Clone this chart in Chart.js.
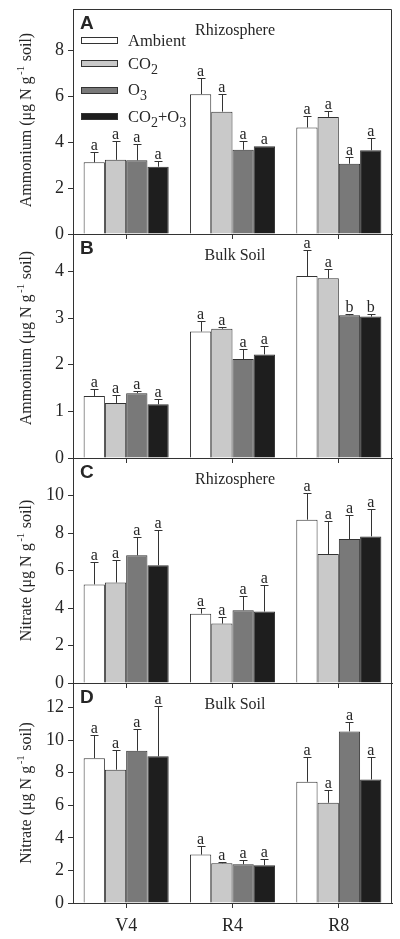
<!DOCTYPE html>
<html><head><meta charset="utf-8">
<script src="https://cdn.jsdelivr.net/npm/chart.js@4/dist/chart.umd.min.js"></script>
<style>
html,body{margin:0;padding:0;background:#fff;width:400px;height:939px;overflow:hidden}
canvas{position:absolute;left:0;top:0}
</style></head><body>
<canvas id="cA" width="400" height="939"></canvas>
<canvas id="cB" width="400" height="939"></canvas>
<canvas id="cC" width="400" height="939"></canvas>
<canvas id="cD" width="400" height="939"></canvas>
<script>
// ---------- data ----------
const categories = ['V4', 'R4', 'R8'];
const seriesNames = ['Ambient', 'CO2', 'O3', 'CO2+O3'];
const seriesColors = ['#ffffff', '#c9c9c9', '#797979', '#1e1e1e'];

// Panel A: Ammonium, Rhizosphere
const ammRhizoAmbient = [3.12, 6.09, 4.64];
const ammRhizoCO2     = [3.23, 5.33, 5.10];
const ammRhizoO3      = [3.21, 3.67, 3.06];
const ammRhizoCO2O3   = [2.93, 3.82, 3.65];
const ammRhizoAmbientErr = [0.46, 0.72, 0.49];
const ammRhizoCO2Err     = [0.81, 0.75, 0.25];
const ammRhizoO3Err      = [0.73, 0.36, 0.30];
const ammRhizoCO2O3Err   = [0.23, 0.00, 0.51];
const ammRhizoLetters = [['a','a','a'], ['a','a','a'], ['a','a','a'], ['a','a','a']];
const ammRhizoTicks = [0, 2, 4, 6, 8];

// Panel B: Ammonium, Bulk Soil
const ammBulkAmbient = [1.33, 2.71, 3.90];
const ammBulkCO2     = [1.18, 2.77, 3.85];
const ammBulkO3      = [1.39, 2.12, 3.06];
const ammBulkCO2O3   = [1.15, 2.22, 3.03];
const ammBulkAmbientErr = [0.14, 0.23, 0.56];
const ammBulkCO2Err     = [0.18, 0.04, 0.20];
const ammBulkO3Err      = [0.05, 0.22, 0.03];
const ammBulkCO2O3Err   = [0.12, 0.18, 0.06];
const ammBulkLetters = [['a','a','a'], ['a','a','a'], ['a','a','b'], ['a','a','b']];
const ammBulkTicks = [0, 1, 2, 3, 4];

// Panel C: Nitrate, Rhizosphere
const nitRhizoAmbient = [5.26, 3.70, 8.71];
const nitRhizoCO2     = [5.36, 3.17, 6.88];
const nitRhizoO3      = [6.81, 3.88, 7.68];
const nitRhizoCO2O3   = [6.28, 3.81, 7.82];
const nitRhizoAmbientErr = [1.20, 0.30, 1.41];
const nitRhizoCO2Err     = [1.22, 0.33, 1.77];
const nitRhizoO3Err      = [0.98, 0.77, 1.29];
const nitRhizoCO2O3Err   = [1.88, 1.41, 1.47];
const nitRhizoLetters = [['a','a','a'], ['a','a','a'], ['a','a','a'], ['a','a','a']];
const nitRhizoTicks = [0, 2, 4, 6, 8, 10];

// Panel D: Nitrate, Bulk Soil
const nitBulkAmbient = [8.89, 2.97, 7.44];
const nitBulkCO2     = [8.18, 2.44, 6.15];
const nitBulkO3      = [9.34, 2.38, 10.53];
const nitBulkCO2O3   = [9.00, 2.32, 7.58];
const nitBulkAmbientErr = [1.44, 0.55, 1.49];
const nitBulkCO2Err     = [1.23, 0.08, 0.80];
const nitBulkO3Err      = [1.32, 0.24, 0.60];
const nitBulkCO2O3Err   = [3.07, 0.41, 1.40];
const nitBulkLetters = [['a','a','a'], ['a','a','a'], ['a','a','a'], ['a','a','a']];
const nitBulkTicks = [0, 2, 4, 6, 8, 10, 12];

const panelLetters = ['A', 'B', 'C', 'D'];
const panelTitles = ['Rhizosphere', 'Bulk Soil', 'Rhizosphere', 'Bulk Soil'];
const yTitles = [['Ammonium (μg N g', '-1', ' soil)'], ['Ammonium (μg N g', '-1', ' soil)'],
                 ['Nitrate (μg N g', '-1', ' soil)'], ['Nitrate (μg N g', '-1', ' soil)']];

// ---------- layout / style ----------
const W = 400, H = 939;
const PLOT_LEFT = 73, PLOT_RIGHT = 392, XAXIS_H = 30;
const SERIF = '"Liberation Serif", "Times New Roman", serif';
const SANS = '"Liberation Sans", Arial, sans-serif';
const INK = '#262626', LINE = '#333333';

const panels = [
  { id: 'cA', top: 9, bottom: 234, max: 9.8, ticks: ammRhizoTicks, yOff: -1.5,
    values: [ammRhizoAmbient, ammRhizoCO2, ammRhizoO3, ammRhizoCO2O3],
    errs: [ammRhizoAmbientErr, ammRhizoCO2Err, ammRhizoO3Err, ammRhizoCO2O3Err],
    letters: ammRhizoLetters, showX: false, legend: true },
  { id: 'cB', top: 234, bottom: 458, max: 4.8, ticks: ammBulkTicks, yOff: -8,
    values: [ammBulkAmbient, ammBulkCO2, ammBulkO3, ammBulkCO2O3],
    errs: [ammBulkAmbientErr, ammBulkCO2Err, ammBulkO3Err, ammBulkCO2O3Err],
    letters: ammBulkLetters, showX: false, legend: false },
  { id: 'cC', top: 458, bottom: 683, max: 12, ticks: nitRhizoTicks, yOff: 0,
    values: [nitRhizoAmbient, nitRhizoCO2, nitRhizoO3, nitRhizoCO2O3],
    errs: [nitRhizoAmbientErr, nitRhizoCO2Err, nitRhizoO3Err, nitRhizoCO2O3Err],
    letters: nitRhizoLetters, showX: false, legend: false },
  { id: 'cD', top: 683, bottom: 903, max: 13.5, ticks: nitBulkTicks, yOff: 0,
    values: [nitBulkAmbient, nitBulkCO2, nitBulkO3, nitBulkCO2O3],
    errs: [nitBulkAmbientErr, nitBulkCO2Err, nitBulkO3Err, nitBulkCO2O3Err],
    letters: nitBulkLetters, showX: true, legend: false }
];

// draw text where digits are rendered as subscripts
function drawSubText(ctx, text, x, y, size, subSize, subDrop) {
  let cx = x;
  for (const ch of text) {
    const isDigit = /[0-9]/.test(ch);
    ctx.font = (isDigit ? subSize : size) + 'px ' + SERIF;
    ctx.fillText(ch, cx, y + (isDigit ? subDrop : 0));
    cx += ctx.measureText(ch).width;
  }
}

const decorPlugin = {
  id: 'decor',
  afterDatasetsDraw(chart) {
    const ctx = chart.ctx, ys = chart.scales.y;
    ctx.save();
    ctx.strokeStyle = LINE; ctx.lineWidth = 1;
    ctx.fillStyle = INK;
    ctx.textAlign = 'center'; ctx.textBaseline = 'alphabetic';
    ctx.font = '16px ' + SERIF;
    chart.data.datasets.forEach((ds, i) => {
      const meta = chart.getDatasetMeta(i);
      meta.data.forEach((bar, j) => {
        const v = ds.data[j], e = ds.errs[j];
        const x = Math.round(bar.x) + 0.5;
        const yTop = ys.getPixelForValue(v);
        const yErr = Math.round(ys.getPixelForValue(v + e)) + 0.5;
        if (e > 0) {
          ctx.beginPath();
          ctx.moveTo(x, yTop); ctx.lineTo(x, yErr);
          ctx.moveTo(x - 4, yErr); ctx.lineTo(x + 4, yErr);
          ctx.stroke();
        }
        ctx.fillText(ds.letters[j], bar.x, yErr - 2.5);
      });
    });
    ctx.restore();
  },
  afterDraw(chart) {
    const ctx = chart.ctx, a = chart.chartArea;
    const p = chart.options.plugins.decor;
    ctx.save();
    // frame (top and right)
    ctx.strokeStyle = LINE; ctx.lineWidth = 1;
    ctx.beginPath();
    ctx.moveTo(Math.round(a.left) + 0.5, Math.round(a.top) + 0.5);
    ctx.lineTo(Math.round(a.right) - 0.5, Math.round(a.top) + 0.5);
    ctx.lineTo(Math.round(a.right) - 0.5, Math.round(a.bottom) + 0.5);
    ctx.stroke();
    ctx.fillStyle = INK;
    // panel letter
    ctx.font = 'bold 19px ' + SANS;
    ctx.textAlign = 'left'; ctx.textBaseline = 'alphabetic';
    ctx.fillText(p.letter, 80, a.top + 20);
    // panel title
    ctx.font = '16px ' + SERIF;
    ctx.textAlign = 'center';
    ctx.fillText(p.title, 235, a.top + 25.5);
    // y-axis title (rotated, with superscript)
    const parts = p.ytitle;
    ctx.save();
    ctx.translate(31, (a.top + a.bottom) / 2 + p.yOff);
    ctx.rotate(-Math.PI / 2);
    ctx.textAlign = 'left';
    ctx.font = '16px ' + SERIF; const w0 = ctx.measureText(parts[0]).width;
    const w2 = ctx.measureText(parts[2]).width;
    ctx.font = '11px ' + SERIF; const w1 = ctx.measureText(parts[1]).width + 2;
    let sx = -(w0 + w1 + w2) / 2;
    ctx.font = '16px ' + SERIF; ctx.fillText(parts[0], sx, 0); sx += w0 + 1.5;
    ctx.font = '11px ' + SERIF; ctx.fillText(parts[1], sx, -7); sx += w1 - 1.5;
    ctx.font = '16px ' + SERIF; ctx.fillText(parts[2], sx, 0);
    ctx.restore();
    // legend
    if (p.legend) {
      const rowsY = [40, 63, 89.5, 116];
      chart.data.datasets.forEach((ds, i) => {
        const cy = rowsY[i];
        ctx.fillStyle = ds.backgroundColor;
        ctx.fillRect(81.5, Math.round(cy - 3) + 0.5, 36, 6);
        ctx.strokeStyle = LINE;
        ctx.strokeRect(81.5, Math.round(cy - 3) + 0.5, 36, 6);
        ctx.fillStyle = INK;
        ctx.textAlign = 'left';
        drawSubText(ctx, ds.label, 128, cy + 5.5, 16.5, 14, 5);
      });
    }
    ctx.restore();
  }
};

panels.forEach((p, k) => {
  const datasets = seriesNames.map((name, i) => ({
    label: name,
    data: p.values[i],
    errs: p.errs[i],
    letters: p.letters[i],
    backgroundColor: seriesColors[i],
    borderColor: LINE,
    borderWidth: 1,
    barPercentage: 1.0,
    categoryPercentage: 0.8
  }));
  new Chart(document.getElementById(p.id), {
    type: 'bar',
    data: { labels: categories, datasets },
    options: {
      responsive: false, animation: false, devicePixelRatio: 1,
      events: [],
      layout: { padding: { left: 0, right: W - PLOT_RIGHT, top: p.top, bottom: H - p.bottom - XAXIS_H } },
      plugins: {
        legend: { display: false }, tooltip: { enabled: false }, title: { display: false },
        decor: { letter: panelLetters[k], title: panelTitles[k], ytitle: yTitles[k], yOff: p.yOff, legend: p.legend }
      },
      scales: {
        x: {
          offset: true,
          grid: { display: true, offset: false, drawOnChartArea: false, drawTicks: true, tickLength: 5, color: LINE },
          border: { display: true, color: LINE, width: 1 },
          ticks: { color: INK, font: { family: SERIF, size: 18 }, padding: 7, maxRotation: 0,
                   callback: function (v, i) { return p.showX ? categories[i] : ''; } },
          afterFit: s => { s.height = XAXIS_H; s.paddingLeft = 0; s.paddingRight = 0; s.paddingTop = 0; s.paddingBottom = 0; }
        },
        y: {
          min: 0, max: p.max,
          afterBuildTicks: s => { s.ticks = p.ticks.map(v => ({ value: v })); },
          grid: { display: true, drawOnChartArea: false, drawTicks: true, tickLength: 5, color: LINE },
          border: { display: true, color: LINE, width: 1 },
          ticks: { color: INK, font: { family: SERIF, size: 18 }, padding: 4 },
          afterFit: s => { s.width = PLOT_LEFT; s.paddingTop = 0; s.paddingBottom = 0; s.paddingLeft = 0; s.paddingRight = 0; }
        }
      }
    },
    plugins: [decorPlugin]
  });
});
</script>
</body></html>
